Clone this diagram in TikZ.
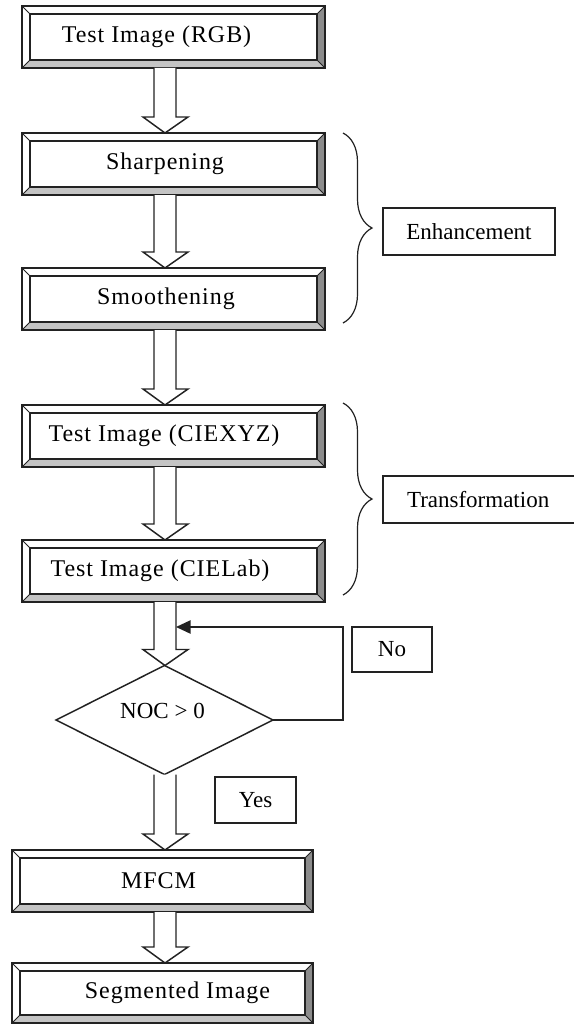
\documentclass[tikz,border=0pt]{standalone}
\usepackage{fontspec}
\setmainfont{Liberation Serif}
\newfontfamily\bxf{Liberation Serif}[LetterSpace=4]
\usetikzlibrary{calc,shapes.geometric,arrows.meta,decorations.pathreplacing}
\definecolor{bevdark}{HTML}{8C8C8C}
\definecolor{bevlight}{HTML}{C4C4C4}
\definecolor{edge}{HTML}{222222}
\newcommand\bevelframe[1]{%
 \fill[bevlight] (#1.south west) -- (#1.south east) -- ($(#1.south east)+(-8,-8)$) -- ($(#1.south west)+(8,-8)$) -- cycle;
 \fill[bevdark] (#1.north east) -- (#1.south east) -- ($(#1.south east)+(-8,-8)$) -- ($(#1.north east)+(-8,8)$) -- cycle;
 \draw[frameline] ($(#1.north west)+(8,8)$) rectangle ($(#1.south east)+(-8,-8)$);
 \draw[frameline,line width=0.7pt] (#1.north west) -- ++(8,8) (#1.north east) -- ++(-8,8) (#1.south west) -- ++(8,-8) (#1.south east) -- ++(-8,-8);
 \draw[frameline] (#1.north west) rectangle (#1.south east);
}
\newcommand\blockarrow[2]{%
 \draw[blockarr] ($(ax |- #1.south)+(-11,0)$) -- ($(ax |- #2.north)+(-11,-16)$) -- ($(ax |- #2.north)+(-22,-16)$) -- (ax |- #2.north) -- ($(ax |- #2.north)+(23,-16)$) -- ($(ax |- #2.north)+(11,-16)$) -- ($(ax |- #1.south)+(11,0)$);
}
\begin{document}
\begin{tikzpicture}[x=0.75pt, y=-0.75pt,
 frameline/.style={draw=edge, line width=1.2pt},
 outerbox/.style={draw=none, fill=white, minimum width=227.25pt, minimum height=46.5pt, inner sep=0pt, outer sep=0pt, anchor=north west},
 boxtext/.style={font=\bxf\fontsize{18}{21}\selectfont, inner sep=0pt},
 labelbox/.style={draw=edge, line width=1.1pt, fill=white, font=\fontsize{17.25}{20}\selectfont, inner sep=0pt, outer sep=0pt},
 blockarr/.style={draw=edge, line width=1.1pt, fill=white, line join=miter},
 bracestyle/.style={draw=edge, line width=0.9pt, decorate, decoration={brace, amplitude=21.75pt}}]
\fill[white] (0,0) rectangle (574,1024);
\useasboundingbox (0,0) rectangle (574,1024);
\coordinate (ax) at (165,0);
% process boxes
\node[outerbox] (b1) at (22,6) {};
\node[outerbox] (b2) at (22,133) {};
\node[outerbox] (b3) at (22,268) {};
\node[outerbox] (b4) at (22,405) {};
\node[outerbox] (b5) at (22,540) {};
\node[outerbox, minimum width=225.75pt] (b6) at (12,850) {};
\node[outerbox, minimum width=225.75pt, minimum height=45pt] (b7) at (12,963) {};
\bevelframe{b1}\bevelframe{b2}\bevelframe{b3}\bevelframe{b4}\bevelframe{b5}\bevelframe{b6}\bevelframe{b7}
\node[boxtext] (t1) at ($(b1.center)+(-17,0)$) {Test Image (RGB)};
\node[boxtext] (t2) at ($(b2.center)+(-8.5,0)$) {Sharpening};
\node[boxtext] (t3) at ($(b3.center)+(-7.5,0)$) {Smoothening};
\node[boxtext] (t4) at ($(b4.center)+(-9.5,0)$) {Test Image (CIEXYZ)};
\node[boxtext] (t5) at ($(b5.center)+(-13.5,0)$) {Test Image (CIELab)};
\node[boxtext] (t6) at ($(b6.center)+(-4,0)$) {MFCM};
\node[boxtext] (t7) at ($(b7.center)+(15,0)$) {Segmented Image};
% decision
\node[draw=edge, line width=1.1pt, diamond, aspect=2, minimum width=162.75pt, minimum height=81.75pt, inner sep=0pt, outer sep=0pt] (dia) at (164.5,720) {};
\node[font=\fontsize{17.25}{20}\selectfont, inner sep=0pt] (tdia) at (162.5,711) {NOC > 0};
% side labels
\node[labelbox, minimum width=129pt, minimum height=35.25pt] (enh) at (469,231.5) {Enhancement};
\node[labelbox, anchor=west, minimum height=35.25pt, text width=170pt, inner xsep=18pt, align=left] (trn) at (383,499.5) {Transformation};
\node[labelbox, minimum width=60pt, minimum height=33.75pt] (no) at (392,649.5) {No};
\node[labelbox, minimum width=60.75pt, minimum height=34.5pt] (yes) at (255.5,800) {Yes};
% braces
\coordinate (e1) at (343,133); \coordinate (e2) at (343,323);
\coordinate (f1) at (343,403); \coordinate (f2) at (343,595);
\draw[bracestyle] (e1) -- (e2);
\draw[bracestyle] (f1) -- (f2);
% block arrows
\blockarrow{b1}{b2}
\blockarrow{b2}{b3}
\blockarrow{b3}{b4}
\blockarrow{b4}{b5}
\blockarrow{b5}{dia}
\blockarrow{dia}{b6}
\blockarrow{b6}{b7}
% no loop
\coordinate (nocorner) at (343,627);
\coordinate (loopend) at (176,627);
\draw[draw=edge, line width=1.1pt, -{Triangle[length=11pt,width=10pt]}] (dia.east) -| (nocorner) -- (loopend);
\end{tikzpicture}
\end{document}
